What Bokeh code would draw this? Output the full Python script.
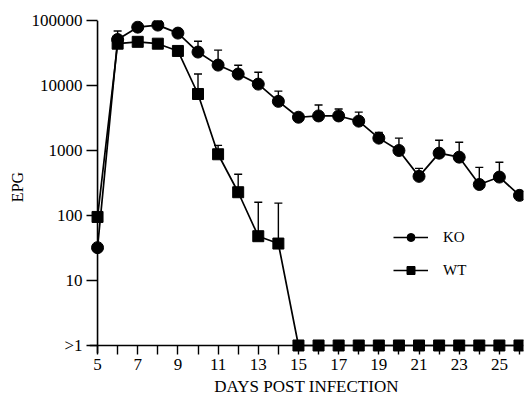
from bokeh.plotting import figure
from bokeh.models import (ColumnDataSource, FixedTicker, Whisker, TeeHead, Legend,
                          LegendItem, Span)
from bokeh.embed import file_html
from bokeh.resources import INLINE

# ---- data ----
days = list(range(5, 27))
ko = [32, 51000, 79000, 85000, 64000, 32700, 20600, 15000, 10500, 5700, 3250,
      3400, 3400, 2830, 1550, 1000, 400, 910, 790, 300, 390, 204]
wt = [95, 44000, 47000, 44000, 34000, 7400, 875, 228, 48, 37, 1,
      1, 1, 1, 1, 1, 1, 1, 1, 1, 1, 1]
ko_err_days = [6, 8, 10, 11, 12, 13, 14, 16, 17, 18, 19, 20, 21, 22, 23, 24, 25]
ko_err_top = [69000, 100000, 48000, 35000, 20500, 16000, 8200, 5000, 4350, 3900,
              1900, 1550, 530, 1440, 1340, 550, 660]
wt_err_days = [10, 11, 12, 13, 14]
wt_err_top = [15000, 1200, 430, 160, 155]
x_ticks = list(range(5, 27))
x_tick_labels = [str(d) if d % 2 == 1 else " " for d in x_ticks]
y_ticks = [1, 10, 100, 1000, 10000, 100000]
y_tick_labels = [">1", "10", "100", "1000", "10000", "100000"]
series_names = ["KO", "WT"]
x_title = "DAYS POST INFECTION"
y_title = "EPG"

FONT = "Liberation Serif"
QFONT = '"Liberation Serif"'

p = figure(width=525, height=394, output_backend="svg", toolbar_location=None,
           y_axis_type="log", x_range=(4.6, 26.2), y_range=(0.753, 100000),
           min_border_left=89, min_border_right=2, min_border_top=20,
           min_border_bottom=41, frame_width=434, frame_height=333)
p.outline_line_color = None
p.xgrid.visible = False
p.ygrid.visible = False

xaxis = p.xaxis[0]
yaxis = p.yaxis[0]
xaxis.ticker = FixedTicker(ticks=x_ticks, minor_ticks=[])
xaxis.major_label_overrides = {t: l for t, l in zip(x_ticks, x_tick_labels)}
yaxis.ticker = FixedTicker(ticks=y_ticks, minor_ticks=[])
yaxis.major_label_overrides = {t: l for t, l in zip(y_ticks, y_tick_labels)}

for ax in (xaxis, yaxis):
    ax.axis_line_color = None
    ax.major_tick_line_width = 1.4
    ax.major_tick_line_color = "black"
    ax.minor_tick_line_color = None
    ax.major_label_text_font = QFONT
    ax.major_label_text_font_size = "17px"
    ax.major_label_text_color = "black"
    ax.axis_label_text_font = FONT
    ax.axis_label_text_font_style = "normal"
    ax.axis_label_text_color = "black"
xaxis.major_tick_in = 8
xaxis.major_tick_out = 1
xaxis.major_label_standoff = 0
xaxis.axis_label = x_title
xaxis.axis_label_text_font_size = "17px"
xaxis.axis_label_standoff = 0
yaxis.major_tick_in = 8
yaxis.major_tick_out = 3
yaxis.major_label_standoff = 4
yaxis.axis_label = y_title
yaxis.axis_label_text_font_size = "16px"
yaxis.axis_label_standoff = 3

# axis lines at day 5 and at the >1 floor
p.add_layout(Span(location=days[0], dimension="height", line_color="black", line_width=1.6))
p.add_layout(Span(location=y_ticks[0], dimension="width", line_color="black", line_width=1.6))

# error bars (upward only)
ko_err_val = [ko[days.index(d)] for d in ko_err_days]
wt_err_val = [wt[days.index(d)] for d in wt_err_days]
for ed, et, ev in ((ko_err_days, ko_err_top, ko_err_val), (wt_err_days, wt_err_top, wt_err_val)):
    src = ColumnDataSource(dict(x=ed, top=et, val=ev))
    w = Whisker(base="x", upper="top", lower="val", dimension="height", source=src,
                line_width=1.4, line_color="black", lower_head=None,
                upper_head=TeeHead(size=8, line_width=1.4, line_color="black"))
    p.add_layout(w)

src_ko = ColumnDataSource(dict(x=days, y=ko))
src_wt = ColumnDataSource(dict(x=days, y=wt))
l_ko = p.line("x", "y", source=src_ko, line_width=1.7, line_color="black")
s_ko = p.scatter("x", "y", source=src_ko, marker="circle", size=12,
                 fill_color="black", line_color="black")
l_wt = p.line("x", "y", source=src_wt, line_width=1.7, line_color="black")
s_wt = p.scatter("x", "y", source=src_wt, marker="square", size=11,
                 fill_color="black", line_color="black")

legend = Legend(items=[LegendItem(label=series_names[0], renderers=[l_ko, s_ko]),
                       LegendItem(label=series_names[1], renderers=[l_wt, s_wt])],
                location=(304, 73), glyph_width=35, glyph_height=20, spacing=13,
                padding=0, margin=0, border_line_alpha=0, background_fill_alpha=0,
                label_text_font=QFONT, label_text_font_size="15px",
                label_standoff=15, label_text_color="black")
p.add_layout(legend)

open("out.html", "w").write(file_html(p, INLINE))
